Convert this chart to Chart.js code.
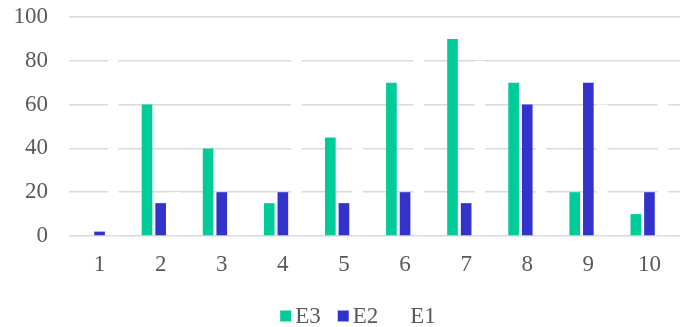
<!DOCTYPE html>
<html>
<head>
<meta charset="utf-8">
<script src="https://cdn.jsdelivr.net/npm/chart.js@4.4.1/dist/chart.umd.min.js"></script>
<style>
  html, body { margin: 0; padding: 0; background: #fff; }
  #wrap { width: 680px; height: 327px; position: relative; }
</style>
</head>
<body>
<div id="wrap"><canvas id="chart"></canvas></div>
<script>
const categories = ['1', '2', '3', '4', '5', '6', '7', '8', '9', '10'];
const e3Values = [0, 60, 40, 15, 45, 70, 90, 70, 20, 10];
const e2Values = [2, 15, 20, 20, 15, 20, 15, 60, 70, 20];
const e1Values = [85, 20, 10, 85, 50, 90, 80, 50, 60, 70];
const yTicks = [0, 20, 40, 60, 80, 100];

const FONT = '"Liberation Serif", "Times New Roman", serif';
const FONT_SIZE = 23;
const TEXT_COLOR = '#595959';

// legend drawn under the plot: small square, short gap, then the label
const bottomLegend = {
  id: 'bottomLegend',
  afterDraw(chart) {
    const ctx = chart.ctx;
    ctx.save();
    ctx.font = FONT_SIZE + 'px ' + FONT;
    ctx.textBaseline = 'middle';
    const box = 11, gap = 4, spacing = 17;
    const items = chart.data.datasets.map(ds => ({
      text: ds.label,
      color: ds.backgroundColor,
      w: ctx.measureText(ds.label).width
    }));
    const total = items.reduce((s, it) => s + box + gap + it.w + spacing, 0) - spacing;
    let x = chart.width / 2 - total / 2 + 18;
    const y = chart.height - 11;
    items.forEach(it => {
      ctx.fillStyle = it.color;
      ctx.fillRect(x, y - box / 2, box, box);
      ctx.fillStyle = TEXT_COLOR;
      ctx.fillText(it.text, x + box + gap, y + 1);
      x += box + gap + it.w + spacing;
    });
    ctx.restore();
  }
};

new Chart(document.getElementById('chart'), {
  type: 'bar',
  data: {
    labels: categories,
    datasets: [
      { label: 'E3', data: e3Values, backgroundColor: '#00cc99' },
      { label: 'E2', data: e2Values, backgroundColor: '#3333cc' },
      { label: 'E1', data: e1Values, backgroundColor: '#ffffff' }
    ]
  },
  options: {
    responsive: true,
    maintainAspectRatio: false,
    animation: false,
    devicePixelRatio: 1,
    layout: { padding: { top: 17, left: 13, right: -3, bottom: 50 } },
    datasets: {
      bar: { categoryPercentage: 0.67, barPercentage: 0.78 }
    },
    plugins: {
      legend: { display: false },
      tooltip: { enabled: false }
    },
    scales: {
      x: {
        grid: { display: false, drawTicks: false },
        border: { display: false },
        ticks: { color: TEXT_COLOR, font: { family: FONT, size: FONT_SIZE }, padding: 15 },
        afterFit: axis => {
          axis.height = 41;
          axis.paddingLeft = 0;
          axis.paddingRight = 0;
        }
      },
      y: {
        min: 0,
        max: 100,
        afterBuildTicks: axis => { axis.ticks = yTicks.map(v => ({ value: v })); },
        grid: { color: '#d9d9d9', lineWidth: 1.5, drawTicks: false },
        border: { display: false },
        ticks: { color: TEXT_COLOR, font: { family: FONT, size: FONT_SIZE }, padding: 21 },
        afterFit: axis => {
          axis.width = 56;
          axis.paddingTop = 0;
          axis.paddingBottom = 0;
        }
      }
    }
  },
  plugins: [bottomLegend]
});
</script>
</body>
</html>
